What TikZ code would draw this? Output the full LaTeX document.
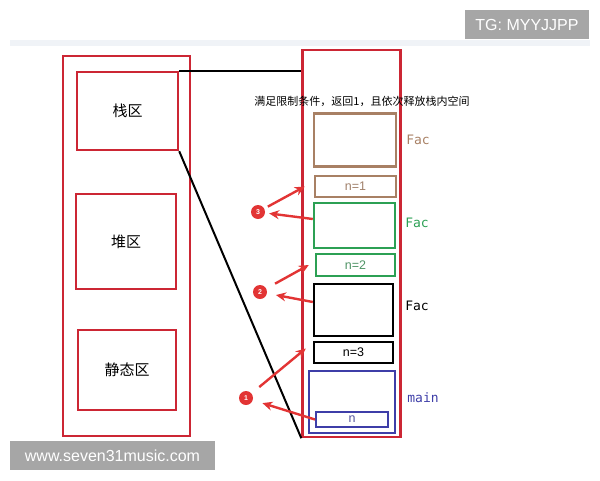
\documentclass[tikz,border=0pt]{standalone}
\usepackage{fontspec}
\setmainfont{Liberation Sans}
\newfontfamily\cjk{Noto Sans CJK SC}
\newfontfamily\codefont{DejaVu Sans Mono}
\usetikzlibrary{arrows.meta}
\definecolor{framered}{RGB}{204,38,52}
\definecolor{facbrown}{RGB}{168,128,100}
\definecolor{facgreen}{RGB}{44,160,84}
\definecolor{mainblue}{RGB}{62,62,168}
\definecolor{markred}{RGB}{226,52,52}
\definecolor{wmgray}{RGB}{166,166,166}
\definecolor{bandgray}{RGB}{240,243,247}
\begin{document}
\begin{tikzpicture}[x=1pt,y=-1pt,
    box/.style={draw,line width=2.4pt,inner sep=0pt},
    area/.style={box,draw=framered,font=\cjk\fontsize{15}{15}\selectfont},
    cell/.style={box,font=\fontsize{12.5}{12.5}\selectfont},
    framelabel/.style={font=\codefont\fontsize{13}{13}\selectfont},
    marker/.style={circle,fill=markred,inner sep=0pt,minimum size=14pt,text=white,font=\fontsize{7}{7}\selectfont\bfseries},
    markarrow/.style={draw=markred,line width=2.4pt,-{Stealth[length=10pt,width=9pt]}},
    watermark/.style={fill=wmgray,text=white,inner sep=0pt,font=\fontsize{16}{16}\selectfont}]
    \useasboundingbox (0,0) rectangle (600,480);
    \fill[bandgray] (10,40) rectangle (590,46);
    % watermarks
    \node[watermark,minimum width=124pt,minimum height=29pt] (tg) at (527,24.5) {TG: MYYJJPP};
    \node[watermark,minimum width=205pt,minimum height=29pt] (site) at (112.5,455.5) {www.seven31music.com};
    % memory areas
    \node[box,draw=framered,minimum width=127pt,minimum height=380pt] (mem) at (126.5,246) {};
    \node[area,minimum width=101pt,minimum height=78pt] (stack) at (127.5,111) {栈区};
    \node[area,minimum width=100pt,minimum height=95pt] (heap) at (126,241.5) {堆区};
    \node[area,minimum width=98pt,minimum height=80pt] (static) at (127,370) {静态区};
    % stack frames
    \node[box,draw=framered,minimum width=98pt,minimum height=387pt] (stk) at (351.5,243.5) {};
    \node[font=\cjk\fontsize{11}{11}\selectfont] (note) at (362,101) {满足限制条件，返回1，且依次释放栈内空间};
    \node[box,draw=facbrown,minimum width=82pt,minimum height=53pt] (fac1) at (355,140) {};
    \node[cell,draw=facbrown,text=facbrown!80!gray,minimum width=81pt,minimum height=21pt] (n1) at (355.5,186.5) {n=1};
    \node[box,draw=facgreen,minimum width=81pt,minimum height=45pt] (fac2) at (354.5,225.5) {};
    \node[cell,draw=facgreen,text=facgreen!60!gray,minimum width=79pt,minimum height=22pt] (n2) at (355.5,265) {n=2};
    \node[box,draw=black,minimum width=79pt,minimum height=52pt] (fac3) at (353.5,310) {};
    \node[cell,draw=black,minimum width=79pt,minimum height=21pt] (n3) at (353.5,352.5) {n=3};
    \node[box,draw=mainblue,minimum width=86pt,minimum height=62pt] (main) at (352,402) {};
    \node[cell,draw=mainblue,text=mainblue!70!gray,line width=2pt,minimum width=72pt,minimum height=15pt] (n) at (352,419.5) {n};
    \node[framelabel,text=facbrown] (lab1) at (418,140) {Fac};
    \node[framelabel,text=facgreen] (lab2) at (417,223) {Fac};
    \node[framelabel] (lab3) at (417,306) {Fac};
    \node[framelabel,text=mainblue] (lab4) at (423,398) {main};
    % stack area zoom lines
    \draw[line width=2pt] (stack.north east) -- (stack.north east -| stk.west);
    \draw[line width=2pt] (stack.south east) -- (stk.south west);
    % steps
    \node[marker] (c3) at (258,212) {3};
    \node[marker] (c2) at (260,292) {2};
    \node[marker] (c1) at (246,398) {1};
    \draw[markarrow,shorten <=4pt] (c3) -- ([xshift=-9pt]n1.west);
    \draw[markarrow,shorten >=4pt] ([yshift=6.5pt]fac2.west) -- (c3);
    \draw[markarrow,shorten <=10pt] (c2) -- ([xshift=-6pt]n2.west);
    \draw[markarrow,shorten >=9pt] ([yshift=8pt]fac3.west) -- (c2);
    \draw[markarrow,shorten <=10pt] (c1) -- ([xshift=-7pt,yshift=4pt]n3.west);
    \draw[markarrow,shorten >=10pt] (n.west) -- (c1);
\end{tikzpicture}
\end{document}
